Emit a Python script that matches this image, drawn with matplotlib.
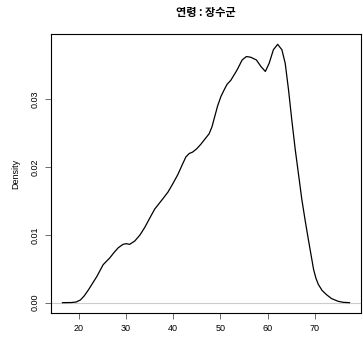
import matplotlib.pyplot as plt

plt.rcParams['font.family'] = ['Liberation Sans', 'DejaVu Sans']

# 연령 밀도 곡선
age = [16.6, 18.5, 19.5, 20.4, 21.2, 22.1, 23.0, 23.9, 25.2, 26.6, 27.5, 28.4,
       29.4, 30.1, 30.8, 31.9, 33.0, 34.0, 35.0, 36.1, 37.8, 38.9, 39.9, 41.0,
       41.9, 42.7, 43.4, 44.1, 45.0, 45.9, 46.8, 47.6, 48.2, 48.7, 49.4, 50.1,
       50.8, 51.4, 52.2, 53.5, 54.6, 55.5, 56.4, 57.6, 58.6, 59.5, 60.3, 61.2,
       62.1, 63.0, 63.7, 64.4, 65.1, 65.8, 66.5, 67.2, 67.9, 68.6, 69.2, 69.7,
       70.2, 70.7, 71.5, 72.4, 73.5, 74.9, 76.0, 77.3]
density = [0.0, 0.00002, 0.0001, 0.0004, 0.0010, 0.0019, 0.0029, 0.0039, 0.0056,
           0.0066, 0.0074, 0.0081, 0.0086, 0.0087, 0.0086, 0.0091, 0.0100, 0.0111,
           0.0124, 0.0138, 0.0153, 0.0163, 0.0175, 0.0189, 0.0203, 0.0215, 0.0220,
           0.0222, 0.0227, 0.0234, 0.0242, 0.0249, 0.0259, 0.0272, 0.0290, 0.0304,
           0.0314, 0.0322, 0.0328, 0.0343, 0.0358, 0.0363, 0.0362, 0.0358, 0.0348,
           0.0341, 0.0353, 0.0373, 0.0381, 0.0373, 0.0353, 0.0314, 0.0269, 0.0227,
           0.0190, 0.0153, 0.0122, 0.0093, 0.0069, 0.0049, 0.0036, 0.0027, 0.0018,
           0.0012, 0.0006, 0.0002, 0.00005, 0.0]

xticks = [20, 30, 40, 50, 60, 70]
yticks = [0.00, 0.01, 0.02, 0.03]

fig = plt.figure(figsize=(3.63, 3.40), dpi=100)
ax = fig.add_axes([0.1405, 0.0794, 0.854, 0.8206])

ax.axhline(0, color='#cccccc', lw=0.8)
ax.plot(age, density, color='black', lw=0.9)

span = max(age) - min(age)
ax.set_xlim(min(age) - 0.04 * span, max(age) + 0.04 * span)
ymax = max(density)
ax.set_ylim(-0.04 * ymax, ymax * 1.04)

ax.set_xticks(xticks)
ax.set_xticklabels([str(v) for v in xticks])
ax.set_yticks(yticks)
ax.set_yticklabels(['%.2f' % v for v in yticks], rotation=90, va='center')
ax.tick_params(labelsize=6.5, length=4, width=0.6, color='#555555', pad=4)

for s in ax.spines.values():
    s.set_linewidth(0.8)

ax.set_ylabel('Density', fontsize=6.5, labelpad=8)
ax.set_title('연령 : 장수군', fontsize=8, fontweight='bold',
             family=['Noto Sans CJK KR', 'DejaVu Sans'], pad=13)

fig.savefig('out.png', dpi=100)
